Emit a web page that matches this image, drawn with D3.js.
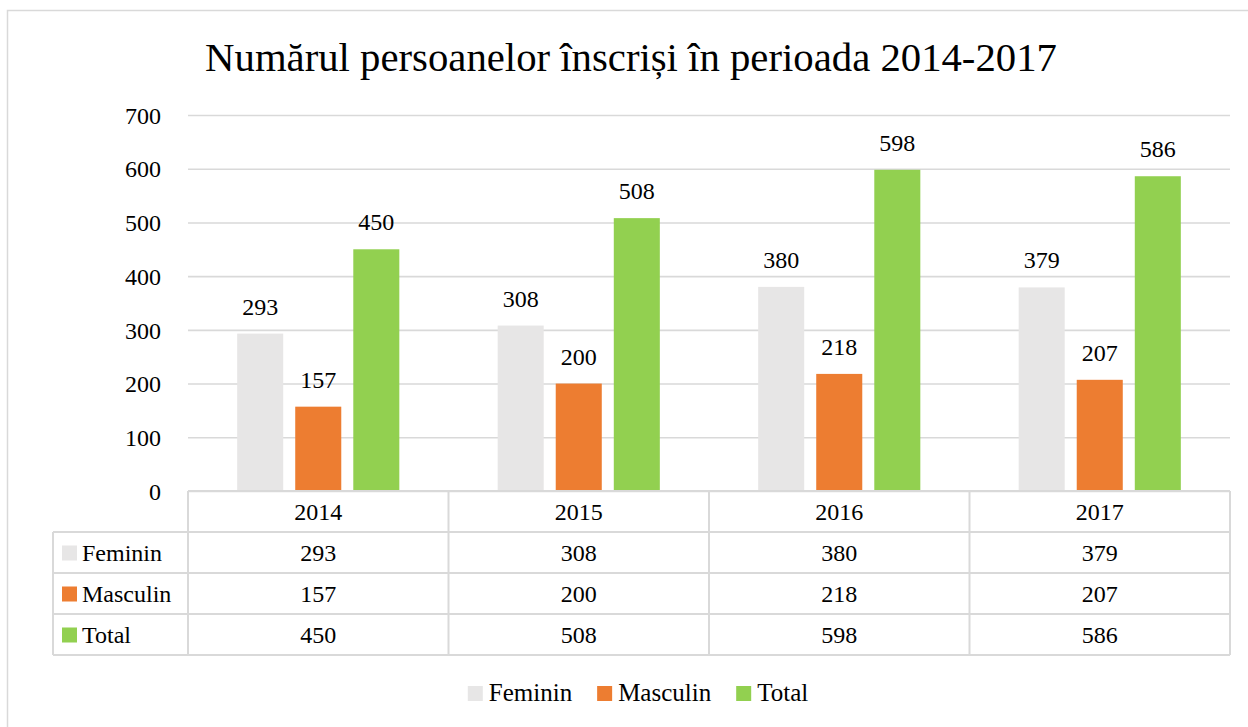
<!DOCTYPE html>
<html><head><meta charset="utf-8">
<script src="https://cdn.jsdelivr.net/npm/d3@7"></script>
<style>
html,body{margin:0;padding:0;background:#fff;}
svg, svg text{font-family:"Liberation Serif",serif !important;fill:#000;}
</style></head>
<body>
<svg id="chart" width="1248" height="727"></svg>
<script>
const title = "Numărul persoanelor înscriși în perioada 2014-2017";
const categories = ["2014", "2015", "2016", "2017"];
const seriesNames = ["Feminin", "Masculin", "Total"];
const feminin = [293, 308, 380, 379];
const masculin = [157, 200, 218, 207];
const total = [450, 508, 598, 586];
const yTicks = [0, 100, 200, 300, 400, 500, 600, 700];
const colors = ["#E7E6E6", "#ED7D31", "#92D050"];

(function () {
const seriesValues = [feminin, masculin, total];
const svg = d3.select("#chart");
const grid = "#D9D9D9";
const FS = "24px";

svg.append("rect").attr("x", 7.5).attr("y", 10.5).attr("width", 1250).attr("height", 730)
  .attr("fill", "#fff").attr("stroke", grid).attr("stroke-width", 1.5);

const pLeft = 188, pRight = 1230, pTop = 115, pBottom = 491;
const x0 = d3.scaleBand().domain(categories).range([pLeft, pRight]).padding(0);
const x1 = d3.scaleBand().domain(seriesNames).range([0, x0.bandwidth()]).paddingInner(0.207).paddingOuter(0.847);
const y = d3.scaleLinear().domain([0, 700]).range([pBottom, pTop]);

const t = svg.append("text").attr("x", 631).attr("y", 71).attr("text-anchor", "middle")
  .style("font-size", "34px").text(title);
const tw = t.node().getComputedTextLength();
t.style("font-size", (34 * 852 / tw).toFixed(2) + "px");

const yAxis = d3.axisLeft(y).tickValues(yTicks).tickSize(-(pRight - pLeft)).tickPadding(27).tickFormat(d3.format("d"));
const ga = svg.append("g").attr("transform", `translate(${pLeft},0)`).call(yAxis);
ga.attr("font-family", null).attr("font-size", null);
ga.select(".domain").remove();
ga.selectAll(".tick line").attr("stroke", grid).attr("stroke-width", 1.6);
ga.selectAll(".tick text").style("font-size", FS).attr("dy", "0.34em");

const groups = svg.append("g").selectAll("g").data(categories).join("g")
  .attr("transform", d => `translate(${x0(d)},0)`);
groups.selectAll("rect").data((c, i) => seriesNames.map((s, k) => ({s, k, v: seriesValues[k][i]})))
  .join("rect")
  .attr("x", d => x1(d.s)).attr("width", x1.bandwidth())
  .attr("y", d => y(d.v)).attr("height", d => y(0) - y(d.v))
  .attr("fill", d => colors[d.k]);
groups.selectAll("text").data((c, i) => seriesNames.map((s, k) => ({s, k, v: seriesValues[k][i]})))
  .join("text")
  .attr("x", d => x1(d.s) + x1.bandwidth() / 2).attr("y", d => y(d.v) - 19)
  .attr("text-anchor", "middle").style("font-size", FS).text(d => d.v);

const rowH = 41;
const tableLeft = 53;
const tg = svg.append("g");
const lineAttr = sel => sel.attr("stroke", grid).attr("stroke-width", 2);
lineAttr(tg.append("line").attr("x1", pLeft).attr("x2", pRight).attr("y1", pBottom).attr("y2", pBottom));
for (let r = 1; r <= 4; r++) {
  lineAttr(tg.append("line").attr("x1", tableLeft).attr("x2", pRight)
    .attr("y1", pBottom + r * rowH).attr("y2", pBottom + r * rowH));
}
const colEdges = categories.map(c => x0(c)).concat([pRight]);
colEdges.forEach(xv => lineAttr(tg.append("line").attr("x1", xv).attr("x2", xv)
  .attr("y1", pBottom).attr("y2", pBottom + 4 * rowH)));
lineAttr(tg.append("line").attr("x1", tableLeft).attr("x2", tableLeft)
  .attr("y1", pBottom + rowH).attr("y2", pBottom + 4 * rowH));
tg.selectAll("text.hdr").data(categories).join("text").attr("class", "hdr")
  .attr("x", d => x0(d) + x0.bandwidth() / 2).attr("y", pBottom + rowH / 2 + 8)
  .attr("text-anchor", "middle").style("font-size", FS).text(d => d);
seriesNames.forEach((s, k) => {
  const ry = pBottom + (k + 1) * rowH;
  tg.append("rect").attr("x", 62).attr("y", ry + rowH / 2 - 7).attr("width", 15).attr("height", 15).attr("fill", colors[k]);
  tg.append("text").attr("x", 82).attr("y", ry + rowH / 2 + 8).style("font-size", FS).text(s);
  tg.selectAll("text.v" + k).data(categories).join("text").attr("class", "v" + k)
    .attr("x", d => x0(d) + x0.bandwidth() / 2).attr("y", ry + rowH / 2 + 8)
    .attr("text-anchor", "middle").style("font-size", FS)
    .text((d, i) => seriesValues[k][i]);
});

const lg = svg.append("g");
let lx = 0;
seriesNames.forEach((s, k) => {
  const it = lg.append("g").attr("transform", `translate(${lx},0)`);
  it.append("rect").attr("x", 0).attr("y", 686).attr("width", 15).attr("height", 15).attr("fill", colors[k]);
  const tx = it.append("text").attr("x", 21).attr("y", 701).style("font-size", "25px").text(s);
  lx += 21 + tx.node().getComputedTextLength() + 25;
});
const lw = lx - 25;
lg.attr("transform", `translate(${638 - lw / 2},0)`);
})();
</script>
</body></html>
